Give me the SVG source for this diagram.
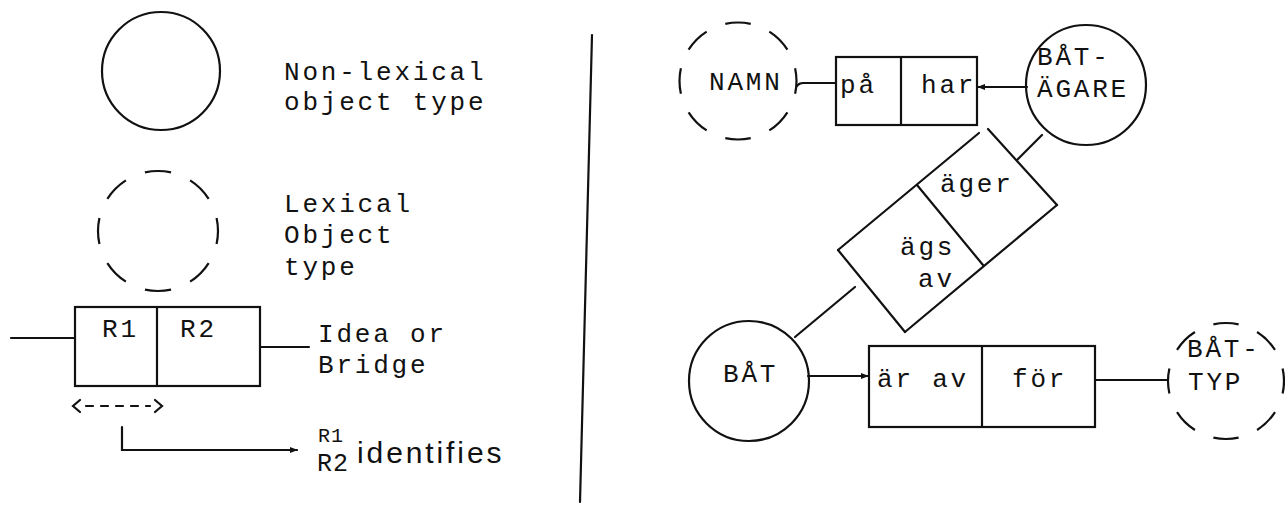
<svg xmlns="http://www.w3.org/2000/svg" width="1285" height="505" viewBox="0 0 1285 505">
<style>
.ln{stroke:#111;stroke-width:2.2;fill:none;stroke-linecap:round}
.sol{stroke:#111;stroke-width:2.2;fill:none}
.dsh{stroke:#111;stroke-width:2.2;fill:none;stroke-dasharray:7 5.5;stroke-dashoffset:3.5}
.t{font-family:"Liberation Mono","DejaVu Sans Mono",monospace;font-size:26px;fill:#111;letter-spacing:2.8px}
.hw{font-family:"Liberation Sans",Arial,sans-serif;font-size:30px;fill:#111;letter-spacing:2.9px}
</style>
<defs>
<marker id="ah" viewBox="0 0 10 10" refX="9" refY="5" markerWidth="8" markerHeight="8" orient="auto" markerUnits="userSpaceOnUse">
<path d="M0,1 L10,5 L0,9 z" fill="#111"/>
</marker>
</defs>
<rect width="1285" height="505" fill="#fff"/>

<g id="legend-nonlexical">
<circle class="sol" cx="161" cy="71" r="59"/>
<text class="t" x="284" y="80">Non-lexical</text>
<text class="t" x="284" y="110">object type</text>
</g>

<g id="legend-lexical">
<circle class="dsh" cx="158" cy="231" r="60" pathLength="100"/>
<text class="t" x="284" y="212">Lexical</text>
<text class="t" x="284" y="243">Object</text>
<text class="t" x="284" y="275">type</text>
</g>

<g id="legend-idea">
<rect class="sol" x="75" y="307" width="185" height="79"/>
<line class="sol" x1="157" y1="307" x2="157" y2="386"/>
<text class="t" x="102" y="337">R1</text>
<text class="t" x="180" y="337">R2</text>
<line class="ln" x1="11" y1="338" x2="75" y2="338"/>
<line class="ln" x1="260" y1="347" x2="309" y2="347"/>
<text class="t" x="318" y="342">Idea or</text>
<text class="t" x="318" y="373">Bridge</text>
</g>

<g id="legend-identifies">
<path class="ln" d="M80,400 L73,406 L80,412"/>
<line class="ln" x1="86" y1="406" x2="150" y2="406" stroke-dasharray="7 8"/>
<path class="ln" d="M155,400 L162,406 L155,412"/>
<path class="ln" d="M122,427 L122,450 L297,450" marker-end="url(#ah)"/>
<text class="t" x="318" y="442" style="font-size:20px;letter-spacing:1px">R1</text>
<text class="t" x="317" y="471" style="font-size:25px;letter-spacing:1px">R2</text>
<text class="hw" x="357" y="463">identifies</text>
</g>

<line id="divider" class="ln" x1="592" y1="35" x2="580" y2="502"/>

<g id="namn">
<circle class="dsh" cx="738" cy="81" r="58.5" pathLength="100"/>
<text class="t" x="709" y="90">NAMN</text>
</g>

<g id="idea-pa-har">
<rect class="sol" x="836" y="57" width="141" height="68"/>
<line class="sol" x1="901" y1="57" x2="901" y2="125"/>
<text class="t" x="840" y="93">på</text>
<text class="t" x="921" y="93">har</text>
</g>

<g id="batagare">
<circle class="sol" cx="1086" cy="85" r="60"/>
<text class="t" x="1037" y="65">BÅT-</text>
<text class="t" x="1037" y="97">ÄGARE</text>
</g>

<g id="idea-ager">
<line class="ln" x1="979" y1="133" x2="838" y2="250"/>
<line class="ln" x1="988" y1="129" x2="1057" y2="205"/>
<line class="ln" x1="1057" y1="205" x2="905" y2="332"/>
<line class="ln" x1="838" y1="250" x2="905" y2="332"/>
<line class="ln" x1="917" y1="185" x2="983" y2="265"/>
<text class="t" x="940" y="192">äger</text>
<text class="t" x="900" y="255">ägs</text>
<text class="t" x="918" y="287">av</text>
</g>

<g id="bat">
<circle class="sol" cx="749" cy="381" r="60"/>
<text class="t" x="723" y="382">BÅT</text>
</g>

<g id="idea-ar-av">
<rect class="sol" x="869" y="346" width="226" height="81"/>
<line class="sol" x1="982" y1="346" x2="982" y2="427"/>
<text class="t" x="877" y="387">är av</text>
<text class="t" x="1012" y="387">för</text>
</g>

<g id="battyp">
<circle class="dsh" cx="1226" cy="381" r="58" pathLength="100"/>
<text class="t" x="1187" y="357">BÅT-</text>
<text class="t" x="1188" y="390">TYP</text>
</g>

<g id="connectors">
<path class="ln" d="M797,86 Q799,83 803,83 L836,83"/>
<line class="ln" x1="1027" y1="87" x2="978" y2="87" marker-end="url(#ah)"/>
<line class="ln" x1="1042" y1="135" x2="1017" y2="160"/>
<line class="ln" x1="855" y1="287" x2="795" y2="337"/>
<line class="ln" x1="808" y1="376" x2="868" y2="376" marker-end="url(#ah)"/>
<line class="ln" x1="1095" y1="380" x2="1168" y2="380"/>
</g>
</svg>
